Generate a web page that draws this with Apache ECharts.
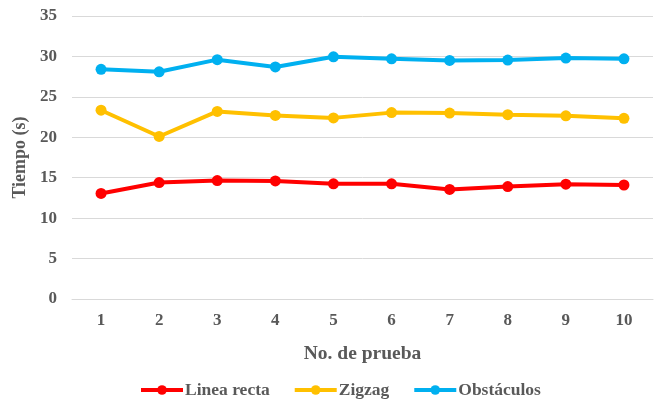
<!DOCTYPE html>
<html>
<head>
<meta charset="utf-8">
<script src="https://cdn.jsdelivr.net/npm/echarts@6/dist/echarts.min.js"></script>
<style>html,body{margin:0;padding:0;background:#fff}#c{width:658px;height:405px}</style>
</head>
<body>
<div id="c"></div>
<script>
const categories = ['1','2','3','4','5','6','7','8','9','10'];
const lineaRecta = [13.05, 14.4, 14.65, 14.6, 14.25, 14.25, 13.55, 13.9, 14.2, 14.1];
const zigzag = [23.35, 20.1, 23.2, 22.7, 22.4, 23.05, 23.0, 22.8, 22.65, 22.35];
const obstaculos = [28.4, 28.1, 29.6, 28.7, 29.95, 29.7, 29.5, 29.55, 29.8, 29.7];
const seriesNames = ['Linea recta', 'Zigzag', 'Obstáculos'];
const colors = ['#ff0000', '#ffc000', '#00b0f0'];

const font = 'Liberation Serif';
const gray = '#595959';
const chart = echarts.init(document.getElementById('c'));
function mk(name, data, color) {
  return {
    name, type: 'line', data, color,
    symbol: 'circle', symbolSize: 11,
    lineStyle: { width: 4, color },
    itemStyle: { color },
    animation: false
  };
}
chart.setOption({
  animation: false,
  grid: { left: 72, right: 5, top: 16, bottom: 106 },
  legend: {
    bottom: 6, left: 139, padding: 0,
    itemWidth: 42, itemHeight: 12, itemGap: 23,
    lineStyle: { width: 4 },
    textStyle: { fontFamily: font, fontWeight: 'bold', fontSize: 17.5, color: gray, padding: [0,0,0,-3] },
    data: seriesNames
  },
  xAxis: {
    type: 'category', data: categories, boundaryGap: true,
    name: 'No. de prueba', nameLocation: 'middle', nameGap: 45,
    nameTextStyle: { fontFamily: font, fontWeight: 'bold', fontSize: 19.5, color: gray },
    axisLine: { show: true, lineStyle: { color: '#d9d9d9', width: 1 } },
    axisTick: { show: false },
    axisLabel: { fontFamily: font, fontWeight: 'bold', fontSize: 17, color: gray, margin: 13 }
  },
  yAxis: {
    type: 'value', min: 0, max: 35, interval: 5,
    name: 'Tiempo (s)', nameLocation: 'middle', nameGap: 39,
    nameTextStyle: { fontFamily: font, fontWeight: 'bold', fontSize: 18, color: gray },
    axisLine: { show: false }, axisTick: { show: false },
    axisLabel: { fontFamily: font, fontWeight: 'bold', fontSize: 17, color: gray, margin: 15 },
    splitLine: { lineStyle: { color: '#d9d9d9', width: 1 } }
  },
  series: [
    mk(seriesNames[0], lineaRecta, colors[0]),
    mk(seriesNames[1], zigzag, colors[1]),
    mk(seriesNames[2], obstaculos, colors[2])
  ]
});
</script>
</body>
</html>
